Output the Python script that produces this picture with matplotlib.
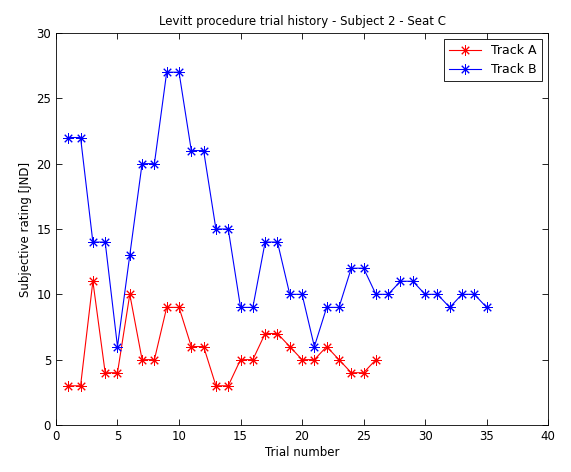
import matplotlib
matplotlib.use("Agg")
import matplotlib.pyplot as plt

trials_a = list(range(1, 27))
track_a = [3, 3, 11, 4, 4, 10, 5, 5, 9, 9, 6, 6, 3, 3, 5, 5, 7, 7, 6, 5, 5, 6, 5, 4, 4, 5]
trials_b = list(range(1, 36))
track_b = [22, 22, 14, 14, 6, 13, 20, 20, 27, 27, 21, 21, 15, 15, 9, 9, 14, 14, 10, 10,
           6, 9, 9, 12, 12, 10, 10, 11, 11, 10, 10, 9, 10, 10, 9]

plt.rcParams.update({"font.family": "DejaVu Sans", "font.size": 8.5})

ASTERISK = (8, 2, 0)  # MATLAB-style '*' marker

fig = plt.figure(figsize=(5.71, 4.72), dpi=100)
ax = fig.add_axes([0.098, 0.0996, 0.862, 0.8305])
ax.plot(trials_a, track_a, color="red", marker=ASTERISK, lw=0.8, ms=7.5, mew=0.7, label="Track A")
ax.plot(trials_b, track_b, color="blue", marker=ASTERISK, lw=0.8, ms=7.5, mew=0.7, label="Track B")
ax.set_xlim(0, 40); ax.set_ylim(0, 30)
ax.set_xticks(range(0, 41, 5)); ax.set_yticks(range(0, 31, 5))
ax.tick_params(direction="in", top=True, right=True, length=4, width=0.6)
for s in ax.spines.values():
    s.set_linewidth(0.6)
ax.set_xlabel("Trial number", labelpad=2)
ax.set_ylabel("Subjective rating [JND]", labelpad=3)
ax.set_title("Levitt procedure trial history - Subject 2 - Seat C", fontsize=8.5, pad=6)
leg = ax.legend(loc="upper right", fancybox=False, edgecolor="black", framealpha=1,
                handlelength=2.6, borderaxespad=0.5, fontsize=9)
leg.get_frame().set_linewidth(0.6)
fig.savefig("out.png")
